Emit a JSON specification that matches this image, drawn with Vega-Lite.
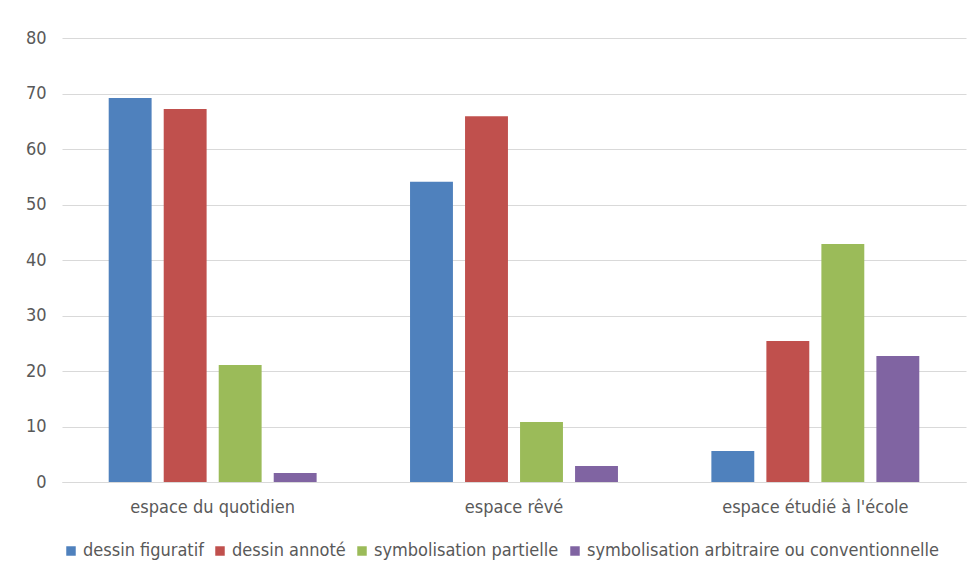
{
  "$schema": "https://vega.github.io/schema/vega-lite/v6.json",
  "autosize": "none",
  "width": 904,
  "height": 444,
  "padding": {"left": 62, "top": 38, "right": 13, "bottom": 96},
  "background": "white",
  "data": {"values": [
    {"espace": "espace du quotidien", "type": "dessin figuratif", "valeur": 69.2},
    {"espace": "espace du quotidien", "type": "dessin annoté", "valeur": 67.2},
    {"espace": "espace du quotidien", "type": "symbolisation partielle", "valeur": 21.1},
    {"espace": "espace du quotidien", "type": "symbolisation arbitraire ou conventionnelle", "valeur": 1.6},
    {"espace": "espace rêvé", "type": "dessin figuratif", "valeur": 54.1},
    {"espace": "espace rêvé", "type": "dessin annoté", "valeur": 65.9},
    {"espace": "espace rêvé", "type": "symbolisation partielle", "valeur": 10.8},
    {"espace": "espace rêvé", "type": "symbolisation arbitraire ou conventionnelle", "valeur": 2.9},
    {"espace": "espace étudié à l'école", "type": "dessin figuratif", "valeur": 5.6},
    {"espace": "espace étudié à l'école", "type": "dessin annoté", "valeur": 25.4},
    {"espace": "espace étudié à l'école", "type": "symbolisation partielle", "valeur": 42.9},
    {"espace": "espace étudié à l'école", "type": "symbolisation arbitraire ou conventionnelle", "valeur": 22.7}
  ]},
  "mark": {"type": "bar"},
  "encoding": {
    "x": {
      "field": "espace", "type": "nominal", "sort": null,
      "scale": {"paddingInner": 0.31, "paddingOuter": 0.155},
      "axis": {"title": null, "labelAngle": 0, "ticks": false, "domainColor": "#D9D9D9", "labelPadding": 16, "labelFontSize": 18, "labelLimit": 400, "labelColor": "#595959", "labelFont": "DejaVu Sans Condensed, Liberation Sans", "grid": false}
    },
    "xOffset": {
      "field": "type", "type": "nominal", "sort": ["dessin figuratif", "dessin annoté", "symbolisation partielle", "symbolisation arbitraire ou conventionnelle"],
      "scale": {"paddingInner": 0.22, "paddingOuter": 0}
    },
    "y": {
      "field": "valeur", "type": "quantitative",
      "scale": {"domain": [0, 80]},
      "axis": {"title": null, "values": [0,10,20,30,40,50,60,70,80], "labelOverlap": false, "ticks": false, "domain": false, "gridColor": "#D9D9D9", "labelPadding": 16, "labelFontSize": 18, "labelColor": "#595959", "labelFont": "DejaVu Sans Condensed, Liberation Sans"}
    },
    "color": {
      "field": "type", "type": "nominal",
      "sort": ["dessin figuratif", "dessin annoté", "symbolisation partielle", "symbolisation arbitraire ou conventionnelle"],
      "scale": {"range": ["#4F81BD", "#C0504D", "#9BBB59", "#8064A2"]},
      "legend": {"title": null, "orient": "none", "legendX": 0, "legendY": 504, "direction": "horizontal", "symbolType": "square", "symbolSize": 90, "symbolStrokeWidth": 0, "labelFontSize": 18, "labelColor": "#595959", "labelFont": "DejaVu Sans Condensed, Liberation Sans", "columnPadding": 7, "symbolOffset": 0, "labelOffset": 3, "labelLimit": 500}
    }
  },
  "config": {"view": {"stroke": null}}
}
